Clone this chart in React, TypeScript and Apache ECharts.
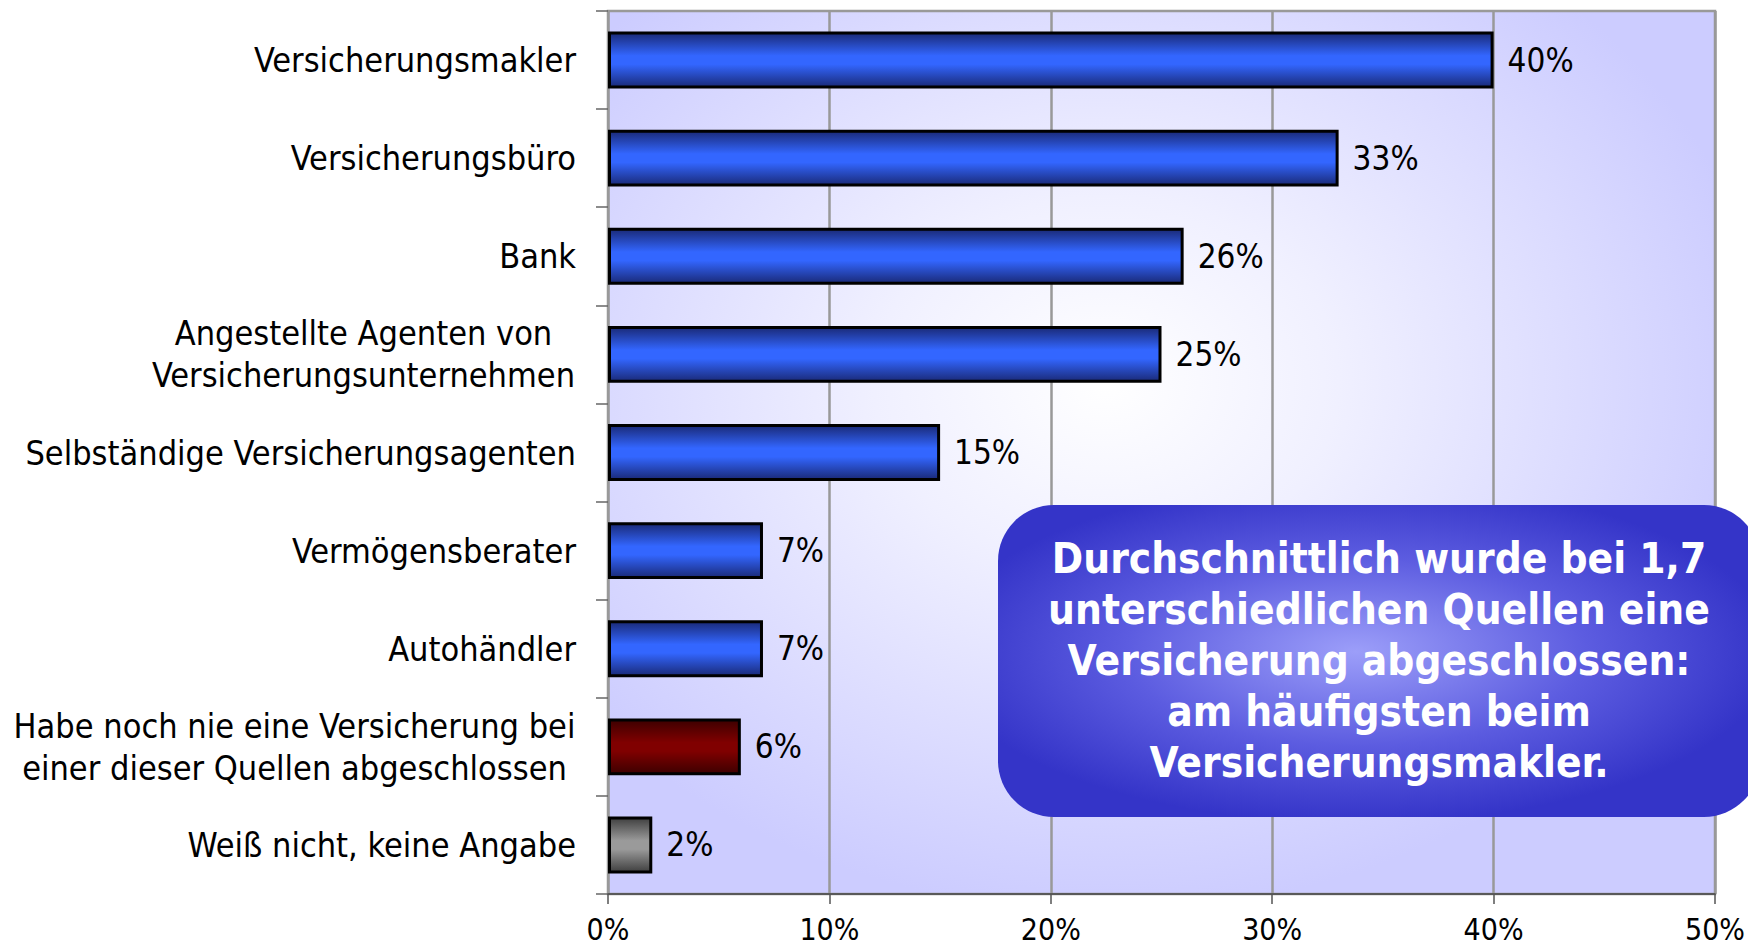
import React, { useEffect, useRef } from "react";
import * as echarts from "echarts";

const categories = [
  "Versicherungsmakler",
  "Versicherungsbüro",
  "Bank",
  "Angestellte Agenten von\nVersicherungsunternehmen",
  "Selbständige Versicherungsagenten",
  "Vermögensberater",
  "Autohändler",
  "Habe noch nie eine Versicherung bei\neiner dieser Quellen abgeschlossen",
  "Weiß nicht, keine Angabe",
];
const values = [40, 33, 26, 25, 15, 7, 7, 6, 2];
const barKinds = ["blue", "blue", "blue", "blue", "blue", "blue", "blue", "red", "gray"];
const axisTicks = [0, 10, 20, 30, 40, 50];
const calloutText = [
  "Durchschnittlich wurde bei 1,7",
  "unterschiedlichen Quellen eine",
  "Versicherung abgeschlossen:",
  "am häufigsten beim",
  "Versicherungsmakler.",
];

const FONT = "'DejaVu Sans Condensed', 'DejaVu Sans', sans-serif";
const LABEL_SIZE = 34;

function grad(edge: string, mid: string) {
  return new echarts.graphic.LinearGradient(0, 0, 0, 1, [
    { offset: 0, color: edge },
    { offset: 0.42, color: mid },
    { offset: 0.58, color: mid },
    { offset: 1, color: edge },
  ]);
}
const fills: Record<string, any> = {
  blue: grad("#1a2a78", "#3366ff"),
  red: grad("#3d0000", "#800000"),
  gray: grad("#404040", "#9a9a9a"),
};

function measure(t: string, size: number) {
  const c = document.createElement("canvas").getContext("2d")!;
  c.font = `${size}px ${FONT}`;
  return c.measureText(t).width;
}

export default function App() {
  const ref = useRef<HTMLDivElement>(null);
  useEffect(() => {
    document.body.style.margin = "0";
    const chart = echarts.init(ref.current!, undefined, { renderer: "svg" });
    const rich: Record<string, any> = {};
    categories.forEach((c, i) => {
      const lines = c.split("\n");
      if (lines.length > 1) {
        const w = Math.max(...lines.map((l) => measure(l, LABEL_SIZE)));
        rich["c" + i] = {
          width: Math.ceil(w) + 1,
          align: "center",
          fontSize: LABEL_SIZE,
          fontFamily: FONT,
          color: "#000",
          lineHeight: 42,
        };
      }
    });
    chart.setOption({
      animation: false,
      grid: {
        left: 608,
        right: 30,
        top: 11,
        bottom: 53,
        show: true,
        borderColor: "#999",
        borderWidth: 2.5,
        backgroundColor: new echarts.graphic.RadialGradient(0.45, 0.42, 0.6, [
          { offset: 0, color: "#ffffff" },
          { offset: 0.35, color: "#f0f0ff" },
          { offset: 1, color: "#ccccff" },
        ]),
      },
      xAxis: {
        type: "value",
        min: axisTicks[0],
        max: axisTicks[axisTicks.length - 1],
        interval: axisTicks[1] - axisTicks[0],
        axisLine: { show: true, lineStyle: { color: "#444", width: 1.5 } },
        axisTick: { show: true, length: 10, lineStyle: { color: "#555", width: 1.5 } },
        splitLine: { show: true, lineStyle: { color: "#999", width: 2.5 } },
        axisLabel: {
          formatter: "{value}%",
          fontSize: 30,
          fontFamily: FONT,
          color: "#000",
          margin: 20,
        },
      },
      yAxis: {
        type: "category",
        inverse: true,
        data: categories,
        axisLine: { show: true, lineStyle: { color: "#999", width: 2 } },
        axisTick: { show: true, length: 12, lineStyle: { color: "#666", width: 1.5 } },
        axisLabel: {
          fontSize: LABEL_SIZE,
          fontFamily: FONT,
          color: "#000",
          margin: 32,
          lineHeight: 42,
          align: "right",
          rich,
          formatter: (v: string, i: number) => {
            const lines = v.split("\n");
            if (lines.length === 1) return v;
            return lines.map((l) => `{c${i}|${l}}`).join("\n");
          },
        },
      },
      series: [
        {
          type: "bar",
          barWidth: "58%",
          data: values.map((v, i) => ({
            value: v,
            itemStyle: { color: fills[barKinds[i]], borderColor: "#000", borderWidth: 3 },
          })),
          label: {
            show: true,
            position: "right",
            distance: 14,
            formatter: "{c}%",
            fontSize: 33,
            fontFamily: FONT,
            color: "#000",
          },
        },
      ],
      graphic: [
        {
          type: "rect",
          z: 100,
          shape: { x: 998, y: 505, width: 762, height: 312, r: 56 },
          style: {
            fill: new echarts.graphic.RadialGradient(0.47, 0.47, 0.55, [
              { offset: 0, color: "#9c9ef9" },
              { offset: 0.55, color: "#5c5ce0" },
              { offset: 1, color: "#3434c8" },
            ]),
          },
        },
        {
          type: "text",
          z: 101,
          x: 1379,
          y: 533,
          style: {
            text: calloutText.join("\n"),
            fill: "#fff",
            fontSize: 42,
            fontWeight: "bold",
            fontFamily: FONT,
            lineHeight: 51,
            align: "center",
            verticalAlign: "top",
          },
        },
      ],
    });
    return () => chart.dispose();
  }, []);
  return <div ref={ref} style={{ width: 1748, height: 947 }} />;
}
